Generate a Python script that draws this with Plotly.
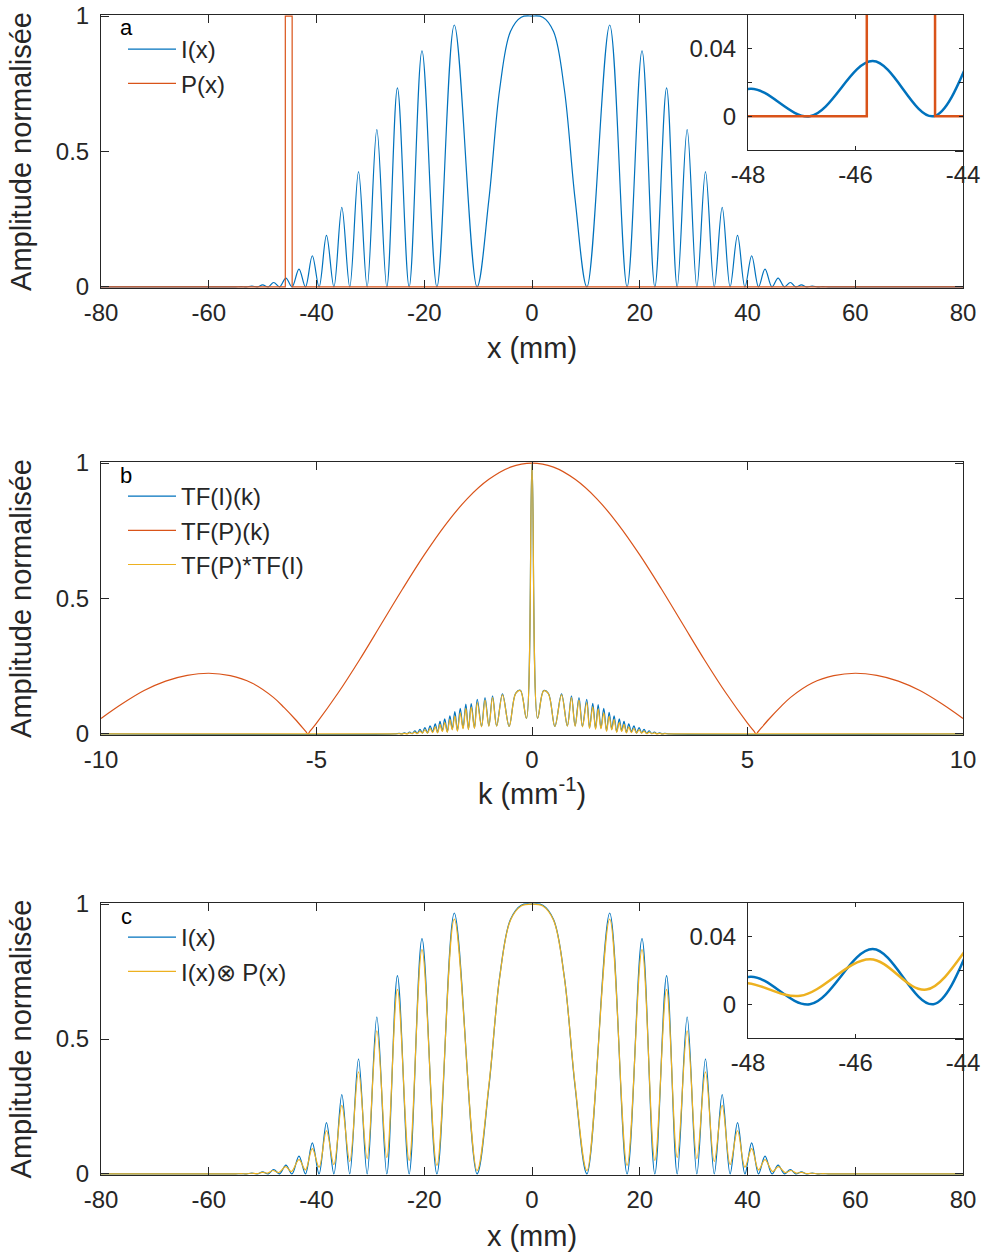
import plotly.graph_objects as go

# ------------------------------------------------------------------ data
# Panel a / c : interference pattern I(x) (peaks and zeros)
i_x = [-80.0, -58.0, -56.0, -55.0, -54.0, -53.0, -52.0, -51.0, -50.0, -48.95,
       -47.95, -46.85, -45.68, -44.55, -43.25, -42.05,
       -40.78, -39.52, -38.15, -36.77, -35.3, -33.83, -32.2, -30.6, -28.8, -26.95,
       -24.98, -22.8, -20.42, -17.65, -14.42, -10.2, -8.0, -6.0, -4.0, -2.0, 0.0,
       2.0, 4.0, 6.0, 8.0, 10.2, 14.42, 17.65, 20.42, 22.8, 24.98, 26.95, 28.8, 30.6,
       32.2, 33.83, 35.3, 36.77, 38.15, 39.52, 40.78, 42.05, 43.25, 44.55, 45.68,
       46.85, 47.95, 48.95, 50.0, 51.0, 52.0, 53.0, 54.0, 55.0, 56.0, 58.0, 80.0]
i_val = [0.0, 0.0, 0.0003, 0.0, 0.0012, 0.0, 0.003, 0.0, 0.0075, 0.0,
         0.0163, 0.0, 0.0327, 0.0, 0.066, 0.0,
         0.115, 0.0, 0.19, 0.0, 0.294, 0.0, 0.426, 0.0, 0.581, 0.0,
         0.735, 0.0, 0.872, 0.0, 0.967, 0.0, 0.323, 0.73, 0.943, 0.996, 1.0,
         0.996, 0.943, 0.73, 0.323, 0.0, 0.967, 0.0, 0.872, 0.0, 0.735, 0.0, 0.581, 0.0,
         0.426, 0.0, 0.294, 0.0, 0.19, 0.0, 0.115, 0.0, 0.066, 0.0, 0.0327,
         0.0, 0.0163, 0.0, 0.0075, 0.0, 0.003, 0.0, 0.0012, 0.0, 0.0003, 0.0, 0.0]

# Slit function P(x)
p_x = [-80.0, -45.79, -45.79, -44.52, -44.52, 80.0]
p_val = [0.0, 0.0, 1.0, 1.0, 0.0, 0.0]

# Convolution I(x) (x) P(x)
conv_x = [-80.0, -56.0, -55.0, -54.0, -53.0, -52.05, -51.05, -50.05, -49.05, -48.1,
          -47.03, -45.73, -44.68, -43.25, -42.05, -40.78,
          -39.52, -38.15, -36.77, -35.3, -33.83, -32.2, -30.6, -28.8, -26.95, -24.98,
          -22.8, -20.42, -17.65, -14.42, -10.2, -8.0, -6.0, -4.0, -2.0, 0.0,
          2.0, 4.0, 6.0, 8.0, 10.2, 14.42, 17.65, 20.42, 22.8, 24.98, 26.95, 28.8,
          30.6, 32.2, 33.83, 35.3, 36.77, 38.15, 39.52, 40.78, 42.05, 43.25, 44.68,
          45.73, 47.03, 48.1, 49.05, 50.05, 51.05, 52.05, 53.0, 54.0, 55.0, 56.0, 80.0]
conv_val = [0.0, 0.0, 0.0002, 0.001, 0.0005, 0.0025, 0.0012, 0.006, 0.003, 0.0127,
            0.005, 0.0267, 0.0087, 0.053, 0.015, 0.094,
            0.025, 0.16, 0.035, 0.254, 0.046, 0.378, 0.057, 0.53, 0.061, 0.684,
            0.05, 0.831, 0.032, 0.944, 0.012, 0.33, 0.728, 0.94, 0.993, 1.0,
            0.993, 0.94, 0.728, 0.33, 0.012, 0.944, 0.032, 0.831, 0.05, 0.684, 0.061, 0.53,
            0.057, 0.378, 0.046, 0.254, 0.035, 0.16, 0.025, 0.094, 0.015, 0.053, 0.0087,
            0.0267, 0.005, 0.0127, 0.003, 0.006, 0.0012, 0.0025, 0.0005, 0.001, 0.0002, 0.0, 0.0]

# Panel b : spectra
tf_k = [-10.0, -3.2, -3.08, -3.02, -2.96, -2.9, -2.84, -2.78, -2.72, -2.66, -2.6,
        -2.545, -2.485, -2.425, -2.365, -2.305, -2.245, -2.19, -2.135, -2.08, -2.025,
        -1.965, -1.905, -1.85, -1.79, -1.73, -1.665, -1.6, -1.535, -1.475, -1.41,
        -1.335, -1.27, -1.17, -1.09, -1.0, -0.915, -0.82, -0.685, -0.53, -0.38, -0.27,
        -0.13, 0.0, 0.13, 0.27, 0.38, 0.53, 0.685, 0.82, 0.915, 1.0, 1.09, 1.17, 1.27,
        1.335, 1.41, 1.475, 1.535, 1.6, 1.665, 1.73, 1.79, 1.85, 1.905, 1.965, 2.025,
        2.08, 2.135, 2.19, 2.245, 2.305, 2.365, 2.425, 2.485, 2.545, 2.6, 2.66, 2.72,
        2.78, 2.84, 2.9, 2.96, 3.02, 3.08, 3.2, 10.0]
tfi_val = [0.0, 0.0, 0.002, 0.0, 0.004, 0.001, 0.007, 0.001, 0.011, 0.002, 0.017,
           0.004, 0.023, 0.004, 0.03, 0.008, 0.037, 0.006, 0.046, 0.012, 0.056,
           0.008, 0.067, 0.018, 0.082, 0.012, 0.094, 0.022, 0.11, 0.018, 0.112,
           0.022, 0.128, 0.028, 0.134, 0.03, 0.141, 0.03, 0.148, 0.028, 0.15, 0.161,
           0.057, 1.0, 0.057, 0.16, 0.15, 0.028, 0.148, 0.03, 0.141, 0.03, 0.134, 0.028, 0.128,
           0.022, 0.113, 0.02, 0.108, 0.022, 0.094, 0.012, 0.08, 0.018, 0.067, 0.008, 0.056,
           0.012, 0.046, 0.006, 0.037, 0.008, 0.03, 0.004, 0.023, 0.004, 0.017, 0.002, 0.011,
           0.001, 0.007, 0.001, 0.004, 0.0, 0.002, 0.0, 0.0]
tfprod_val = [0.0, 0.0, 0.001, 0.0, 0.002, 0.0, 0.0039, 0.001, 0.0064, 0.001, 0.01,
              0.003, 0.015, 0.003, 0.02, 0.005, 0.026, 0.004, 0.034, 0.009, 0.042,
              0.006, 0.053, 0.015, 0.066, 0.01, 0.078, 0.019, 0.094, 0.016, 0.099,
              0.02, 0.116, 0.026, 0.125, 0.028, 0.134, 0.029, 0.144, 0.0275, 0.149, 0.16,
              0.057, 1.0, 0.057, 0.159, 0.149, 0.0275, 0.144, 0.029, 0.134, 0.028, 0.125, 0.026, 0.116,
              0.02, 0.1, 0.017, 0.093, 0.019, 0.078, 0.01, 0.065, 0.015, 0.053, 0.006, 0.042,
              0.009, 0.034, 0.004, 0.026, 0.005, 0.02, 0.003, 0.015, 0.003, 0.01, 0.001, 0.0064,
              0.001, 0.0039, 0.0, 0.002, 0.0, 0.001, 0.0, 0.0]

tfp_k = [-10.0, -9.5, -9.0, -8.5, -8.0, -7.5, -7.0, -6.5, -6.0, -5.75, -5.5, -5.25, -5.2, -5.15,
         -5.0, -4.5, -4.0, -3.5, -3.0, -2.5, -2.0, -1.5, -1.0, -0.5, 0.0, 0.5, 1.0, 1.5,
         2.0, 2.5, 3.0, 3.5, 4.0, 4.5, 5.0, 5.15, 5.2, 5.25, 5.5, 5.75, 6.0, 6.5, 7.0, 7.5, 8.0,
         8.5, 9.0, 9.5, 10.0]
tfp_val = [0.057, 0.112, 0.16, 0.195, 0.216, 0.224, 0.215, 0.188, 0.135, 0.097, 0.055, 0.009, 0.0, 0.01,
           0.04, 0.151, 0.274, 0.405, 0.536, 0.661, 0.774, 0.869, 0.94, 0.985, 1.0, 0.985, 0.94, 0.869,
           0.774, 0.661, 0.536, 0.405, 0.274, 0.151, 0.04, 0.01, 0.0, 0.009, 0.055, 0.097, 0.135, 0.188,
           0.215, 0.224, 0.216, 0.195, 0.16, 0.112, 0.057]

# Tick labels
x_ticks = [-80, -60, -40, -20, 0, 20, 40, 60, 80]
x_ticktext = ["-80", "-60", "-40", "-20", "0", "20", "40", "60", "80"]
k_ticks = [-10, -5, 0, 5, 10]
k_ticktext = ["-10", "-5", "0", "5", "10"]
y_ticks = [0, 0.5, 1]
y_ticktext = ["0", "0.5", "1"]
ins_x_ticks = [-48, -46, -44]
ins_x_ticktext = ["-48", "-46", "-44"]
ins_y_ticks = [0, 0.02, 0.04]
ins_y_ticktext = ["0", "", "0.04"]

# ------------------------------------------------------------------ style / layout
FONT = "Liberation Sans, Arial, Helvetica, sans-serif"
AX = "#262626"
BLUE = "#0072BD"
ORANGE = "#D95319"
YELLOW = "#EDB120"
TICK_SIZE = 24
TITLE_SIZE = 29
LEG_SIZE = 24

W, H = 982, 1253
ML, MR, MT, MB = 101, 19, 15, 78
PW = W - ML - MR
PH = H - MT - MB


def ypos(pix):
    return (H - MB - pix) / PH


def xpos(pix):
    return (pix - ML) / PW


def xaxis_style(**kw):
    d = dict(showline=True, linecolor=AX, linewidth=1, mirror="ticks", ticks="inside",
             ticklen=8, tickwidth=1, tickcolor=AX, showgrid=False, zeroline=False,
             automargin=False, ticklabeloverflow="allow", ticklabelstandoff=3,
             tickfont=dict(family=FONT, size=TICK_SIZE, color=AX))
    d.update(kw)
    return d


def yaxis_style(**kw):
    d = xaxis_style(ticklabelstandoff=6)
    d.update(kw)
    return d


def ttl(text, standoff):
    return dict(text=text, font=dict(family=FONT, size=TITLE_SIZE, color=AX), standoff=standoff)


fig = go.Figure()
SM = 1.0
LW = 1.2
IW = 2.5
# panel a
fig.add_trace(go.Scatter(x=i_x, y=i_val, mode="lines", name="I(x)", line=dict(color=BLUE, width=LW, shape="spline", smoothing=SM),
                         xaxis="x", yaxis="y", legend="legend"))
fig.add_trace(go.Scatter(x=p_x, y=p_val, mode="lines", name="P(x)", line=dict(color=ORANGE, width=LW),
                         xaxis="x", yaxis="y", legend="legend"))
# inset a
fig.add_trace(go.Scatter(x=i_x, y=i_val, mode="lines", showlegend=False, line=dict(color=BLUE, width=IW, shape="spline", smoothing=SM),
                         xaxis="x2", yaxis="y2"))
fig.add_trace(go.Scatter(x=p_x, y=p_val, mode="lines", showlegend=False, line=dict(color=ORANGE, width=IW),
                         xaxis="x2", yaxis="y2"))
# panel b
fig.add_trace(go.Scatter(x=tf_k, y=tfi_val, mode="lines", name="TF(I)(k)", line=dict(color=BLUE, width=LW, shape="spline", smoothing=SM),
                         xaxis="x3", yaxis="y3", legend="legend2"))
fig.add_trace(go.Scatter(x=tfp_k, y=tfp_val, mode="lines", name="TF(P)(k)", line=dict(color=ORANGE, width=LW, shape="spline", smoothing=SM),
                         xaxis="x3", yaxis="y3", legend="legend2"))
fig.add_trace(go.Scatter(x=tf_k, y=tfprod_val, mode="lines", name="TF(P)*TF(I)", line=dict(color=YELLOW, width=LW, shape="spline", smoothing=SM),
                         xaxis="x3", yaxis="y3", legend="legend2"))
# panel c
fig.add_trace(go.Scatter(x=i_x, y=i_val, mode="lines", name="I(x)", line=dict(color=BLUE, width=LW, shape="spline", smoothing=SM),
                         xaxis="x4", yaxis="y4", legend="legend3"))
fig.add_trace(go.Scatter(x=conv_x, y=conv_val, mode="lines", name="I(x)⊗ P(x)", line=dict(color=YELLOW, width=LW, shape="spline", smoothing=SM),
                         xaxis="x4", yaxis="y4", legend="legend3"))
# inset c
fig.add_trace(go.Scatter(x=i_x, y=i_val, mode="lines", showlegend=False, line=dict(color=BLUE, width=IW, shape="spline", smoothing=SM),
                         xaxis="x5", yaxis="y5"))
fig.add_trace(go.Scatter(x=conv_x, y=conv_val, mode="lines", showlegend=False, line=dict(color=YELLOW, width=IW, shape="spline", smoothing=SM),
                         xaxis="x5", yaxis="y5"))

YR = [-0.004, 1.004]
INS_X = [xpos(748), 1.0]

legend_common = dict(xanchor="left", yanchor="top", bgcolor="rgba(0,0,0,0)", borderwidth=0,
                     itemwidth=48, font=dict(family=FONT, size=LEG_SIZE, color=AX))

lbl_font = dict(family=FONT, size=22, color="black")

fig.update_layout(
    width=W, height=H,
    margin=dict(l=ML, r=MR, t=MT, b=MB, autoexpand=False),
    paper_bgcolor="white", plot_bgcolor="white",
    font=dict(family=FONT, color=AX),
    xaxis=xaxis_style(domain=[0, 1], anchor="y", range=[-80, 80], tickvals=x_ticks, ticktext=x_ticktext,
                      title=ttl("x (mm)", 12)),
    yaxis=yaxis_style(domain=[ypos(288), ypos(15)], anchor="x", range=YR, tickvals=y_ticks, ticktext=y_ticktext,
                      title=ttl("Amplitude normalisée", 15)),
    xaxis2=xaxis_style(domain=INS_X, anchor="y2", range=[-48, -44], tickvals=ins_x_ticks, ticktext=ins_x_ticktext,
                       ticklen=4),
    yaxis2=yaxis_style(domain=[ypos(150), ypos(15)], anchor="x2", range=[-0.02, 0.06], tickvals=ins_y_ticks,
                       ticktext=ins_y_ticktext, ticklen=4),
    xaxis3=xaxis_style(domain=[0, 1], anchor="y3", range=[-10, 10], tickvals=k_ticks, ticktext=k_ticktext,
                       title=ttl("k (mm<sup>-1</sup>)", 11)),
    yaxis3=yaxis_style(domain=[ypos(735), ypos(462)], anchor="x3", range=YR, tickvals=y_ticks, ticktext=y_ticktext,
                       title=ttl("Amplitude normalisée", 15)),
    xaxis4=xaxis_style(domain=[0, 1], anchor="y4", range=[-80, 80], tickvals=x_ticks, ticktext=x_ticktext,
                       title=ttl("x (mm)", 13)),
    yaxis4=yaxis_style(domain=[ypos(1175), ypos(903)], anchor="x4", range=YR, tickvals=y_ticks, ticktext=y_ticktext,
                       title=ttl("Amplitude normalisée", 15)),
    xaxis5=xaxis_style(domain=INS_X, anchor="y5", range=[-48, -44], tickvals=ins_x_ticks, ticktext=ins_x_ticktext,
                       ticklen=4),
    yaxis5=yaxis_style(domain=[ypos(1038), ypos(903)], anchor="x5", range=[-0.02, 0.06], tickvals=ins_y_ticks,
                       ticktext=ins_y_ticktext, ticklen=4),
    legend=dict(x=xpos(123), y=ypos(27), **legend_common),
    legend2=dict(x=xpos(123), y=ypos(474), **legend_common),
    legend3=dict(x=xpos(123), y=ypos(915), **legend_common),
    annotations=[
        dict(text="a", x=xpos(126), y=ypos(28), xref="paper", yref="paper", showarrow=False,
             xanchor="center", yanchor="middle", font=lbl_font),
        dict(text="b", x=xpos(126), y=ypos(475), xref="paper", yref="paper", showarrow=False,
             xanchor="center", yanchor="middle", font=lbl_font),
        dict(text="c", x=xpos(126), y=ypos(916), xref="paper", yref="paper", showarrow=False,
             xanchor="center", yanchor="middle", font=lbl_font),
    ],
)

fig.write_html("out.html", config={"displayModeBar": False},
               post_script="document.body.style.margin='0px';document.body.style.overflow='hidden';")
